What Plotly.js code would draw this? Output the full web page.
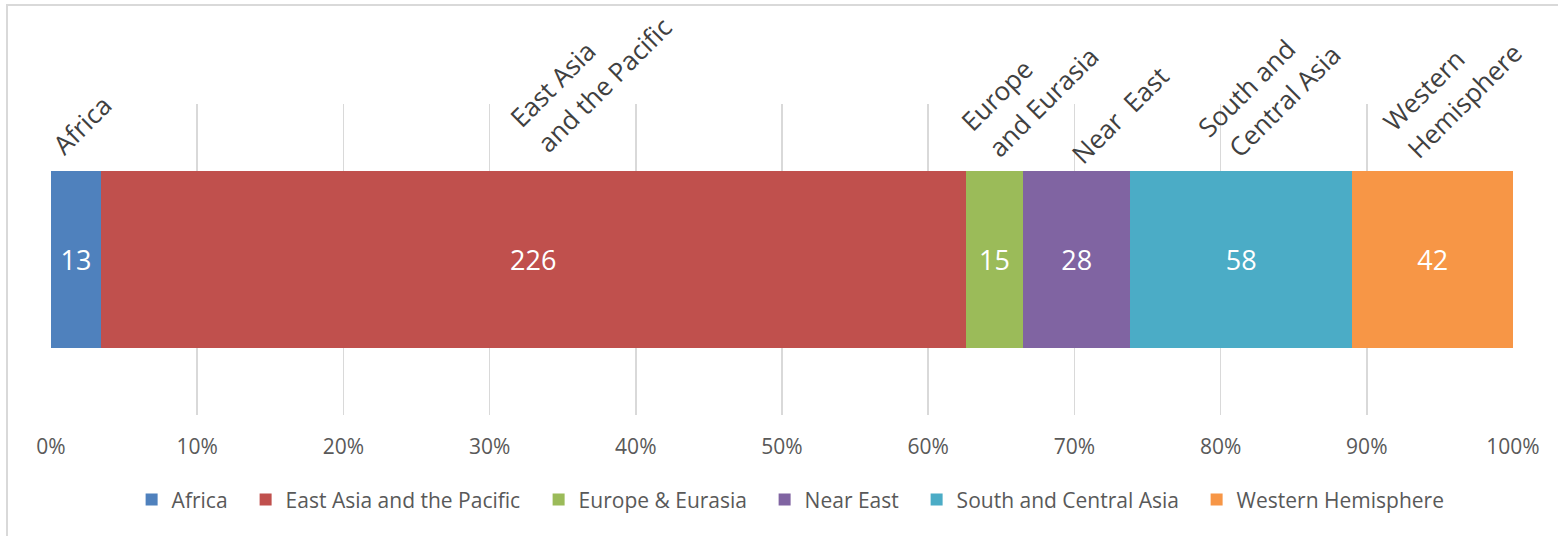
<!DOCTYPE html>
<html>
<head>
<meta charset="utf-8">
<script src="https://cdn.plot.ly/plotly-3.0.1.min.js"></script>
<style>
  html, body { margin: 0; padding: 0; background: #ffffff; }
  #wrap { position: relative; width: 1558px; height: 536px; overflow: hidden; }
  #chart { position: absolute; left: 0; top: 0; width: 1558px; height: 536px; }
  #frame { position: absolute; left: 6px; top: 4px; width: 1600px; height: 600px;
           border-left: 2px solid #d9d9d9; border-top: 2px solid #d9d9d9; pointer-events: none; }
</style>
</head>
<body>
<div id="wrap"><div id="chart"></div><div id="frame"></div></div>
<script>
// ---- data ----
const regions = ["Africa", "East Asia and the Pacific", "Europe & Eurasia", "Near East", "South and Central Asia", "Western Hemisphere"];
const counts = [13, 226, 15, 28, 58, 42];
const colors = ["#4F81BD", "#C0504D", "#9BBB59", "#8064A2", "#4BACC6", "#F79646"];
const tickVals = [0, 10, 20, 30, 40, 50, 60, 70, 80, 90, 100];
const tickText = ["0%", "10%", "20%", "30%", "40%", "50%", "60%", "70%", "80%", "90%", "100%"];

// rotated header labels (one entry per line), placed in axis-percent / paper units
const headerLines = ["Africa", "East Asia", "and the Pacific", "Europe", "and Eurasia", "Near\u00a0 East", "South and", "Central Asia", "Western", "Hemisphere"];
const headerX = [2.08, 34.30, 37.89, 64.67, 67.82, 73.08, 81.74, 84.34, 93.88, 96.62];
const headerY = [0.934, 1.064, 1.063, 1.029, 1.008, 0.966, 1.053, 1.010, 1.045, 1.011];

const FONT = "Open Sans, Noto Sans, sans-serif";
const LEGEND_SIZE = 21;

// measure legend text so entries get the reference's wider spacing
const cv = document.createElement("canvas").getContext("2d");
cv.font = LEGEND_SIZE + "px 'Open Sans'";
const legendWidths = regions.map(n => Math.round(cv.measureText(n).width) + 13);

const traces = regions.map((name, i) => ({
  type: "bar",
  orientation: "h",
  name: name,
  y: ["all"],
  x: [counts[i]],
  width: 0.572,
  marker: { color: colors[i], line: { width: 0 } },
  text: [String(counts[i])],
  texttemplate: "%{text}",
  textposition: "inside",
  insidetextanchor: "middle",
  constraintext: "none",
  textfont: { family: FONT, size: 27, color: "#ffffff" },
  legendwidth: legendWidths[i],
  hoverinfo: "skip"
}));

const annotations = headerLines.map((t, i) => ({
  text: t,
  xref: "x",
  yref: "paper",
  x: headerX[i],
  y: headerY[i],
  xanchor: "center",
  yanchor: "middle",
  textangle: -45,
  showarrow: false,
  font: { family: FONT, size: 26, color: "#404040" }
}));

const layout = {
  width: 1558,
  height: 536,
  margin: { l: 51, r: 45, t: 104, b: 121, pad: 0 },
  paper_bgcolor: "rgba(0,0,0,0)",
  plot_bgcolor: "rgba(0,0,0,0)",
  barmode: "stack",
  barnorm: "percent",
  showlegend: true,
  legend: {
    orientation: "h",
    x: 0.510,
    xanchor: "center",
    y: -0.273,
    yanchor: "middle",
    traceorder: "normal",
    font: { family: FONT, size: LEGEND_SIZE, color: "#595959" },
    itemwidth: 30
  },
  xaxis: {
    range: [0, 100],
    tickvals: tickVals,
    ticktext: tickText,
    showgrid: true,
    gridcolor: "#d9d9d9",
    gridwidth: 1.5,
    zeroline: false,
    showline: false,
    ticks: "",
    ticklabelstandoff: 17,
    tickfont: { family: FONT, size: 21, color: "#595959" },
    fixedrange: true
  },
  yaxis: {
    range: [-0.5, 0.5],
    visible: false,
    type: "category",
    fixedrange: true
  },
  annotations: annotations,
  font: { family: FONT }
};

Plotly.newPlot("chart", traces, layout, { displayModeBar: false, staticPlot: true });
</script>
</body>
</html>
